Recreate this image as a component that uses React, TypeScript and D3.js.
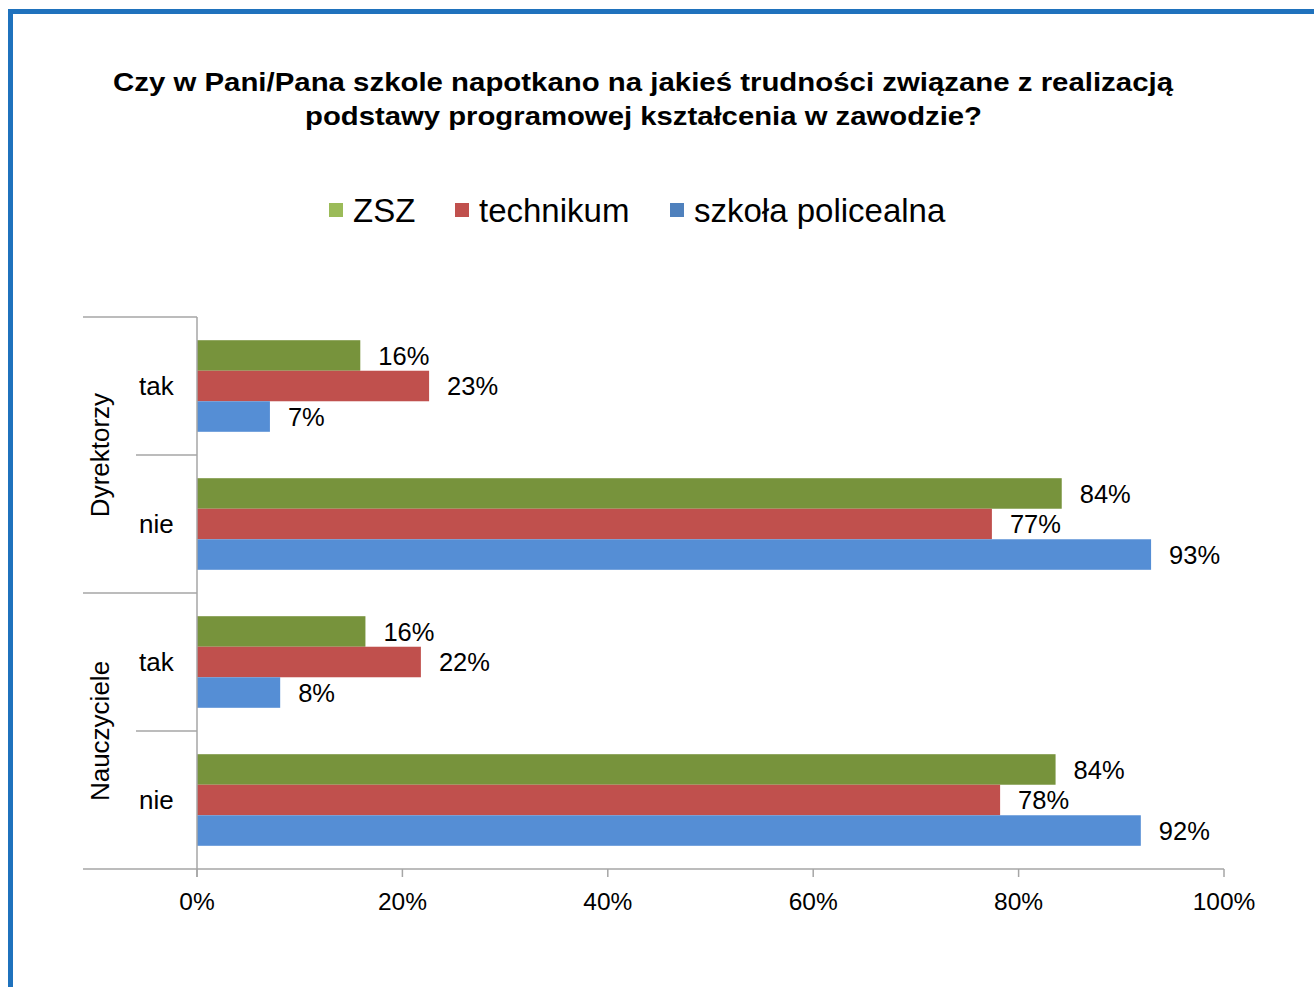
import React from "react";
import * as d3 from "d3";

const groups = ["Dyrektorzy", "Nauczyciele"];
const answers = ["tak", "nie"];
const series = ["ZSZ", "technikum", "szkoła policealna"];
const barColors = ["#77933C", "#C0504D", "#558ED5"];
const legendColors = ["#9BBB59", "#C0504D", "#4F81BD"];
// values per category row (Dyrektorzy-tak, Dyrektorzy-nie, Nauczyciele-tak, Nauczyciele-nie)
const zszValues = [15.9, 84.2, 16.4, 83.6];
const technikumValues = [22.6, 77.4, 21.8, 78.2];
const policealnaValues = [7.1, 92.9, 8.1, 91.9];
const xTicks = [0, 20, 40, 60, 80, 100];
const titleLines = [
  "Czy w Pani/Pana szkole napotkano na jakieś trudności związane z realizacją",
  "podstawy programowej kształcenia w zawodzie?",
];

const W = 1314;
const H = 987;
const FONT = "'Liberation Sans', Arial, sans-serif";

export default function App() {
  const x = d3.scaleLinear().domain([0, 100]).range([197, 1224]);
  const rows = groups.flatMap((g) => answers.map((a) => `${g}|${a}`));
  const y = d3.scaleBand<string>().domain(rows).range([317, 869]).padding(0);
  const inner = d3
    .scaleBand<string>()
    .domain(series)
    .range([0, y.bandwidth()])
    .paddingInner(0)
    .paddingOuter(0.76);
  const allValues = [zszValues, technikumValues, policealnaValues];
  const gridColor = "#A6A6A6";
  const groupScale = d3.scaleBand<string>().domain(groups).range([317, 869]);

  // legend layout
  const legendItems = [
    { label: series[0], sx: 329, tx: 353 },
    { label: series[1], sx: 455, tx: 479 },
    { label: series[2], sx: 670, tx: 694 },
  ];

  return (
    <svg
      width={W}
      height={H}
      style={{ position: "absolute", left: 0, top: 0, background: "#fff" }}
      fontFamily={FONT}
    >
      <rect x={0} y={0} width={W} height={H} fill="#fff" />
      {/* frame */}
      <path d={`M10.5,${H + 10} V11.5 H${W + 10}`} fill="none" stroke="#1F72BD" strokeWidth={5} />

      {/* title */}
      <text x={643} y={91} textAnchor="middle" fontWeight="bold" fontSize={26} fill="#000" textLength={1060} lengthAdjust="spacingAndGlyphs">
        {titleLines[0]}
      </text>
      <text x={643.5} y={125} textAnchor="middle" fontWeight="bold" fontSize={26} fill="#000" textLength={677} lengthAdjust="spacingAndGlyphs">
        {titleLines[1]}
      </text>

      {/* legend */}
      {legendItems.map((it, i) => (
        <g key={it.label}>
          <rect x={it.sx} y={203} width={14} height={14} fill={legendColors[i]} />
          <text x={it.tx} y={222} fontSize={33} fill="#000">
            {it.label}
          </text>
        </g>
      ))}

      {/* bars */}
      {rows.map((r, ri) =>
        series.map((s, si) => {
          const v = allValues[si][ri];
          const by = (y(r) as number) + (inner(s) as number);
          const bh = inner.bandwidth();
          return (
            <g key={r + s}>
              <rect x={x(0)} y={by} width={x(v) - x(0)} height={bh} fill={barColors[si]} />
              <text x={x(v) + 18} y={by + bh / 2} dy="0.36em" fontSize={25.5} fill="#000">
                {`${Math.round(v)}%`}
              </text>
            </g>
          );
        })
      )}

      {/* vertical axis line */}
      <line x1={197} x2={197} y1={317} y2={877} stroke={gridColor} strokeWidth={1.5} />
      {/* horizontal axis */}
      <line x1={83} x2={1224} y1={869} y2={869} stroke={gridColor} strokeWidth={1.5} />
      {xTicks.map((t) => (
        <g key={t}>
          <line x1={x(t)} x2={x(t)} y1={869} y2={877} stroke={gridColor} strokeWidth={1.5} />
          <text x={x(t)} y={910} textAnchor="middle" fontSize={24.5} fill="#000">
            {`${t}%`}
          </text>
        </g>
      ))}

      {/* category separators */}
      {groups.map((g) => (
        <line key={g} x1={83} x2={197} y1={groupScale(g)} y2={groupScale(g)} stroke={gridColor} strokeWidth={1.5} />
      ))}
      {groups.map((g) => (
        <line
          key={g + "mid"}
          x1={136}
          x2={197}
          y1={(groupScale(g) as number) + groupScale.bandwidth() / 2}
          y2={(groupScale(g) as number) + groupScale.bandwidth() / 2}
          stroke={gridColor}
          strokeWidth={1.5}
        />
      ))}

      {/* category labels */}
      {rows.map((r) => (
        <text key={r} x={139} y={(y(r) as number) + y.bandwidth() / 2} dy="0.36em" fontSize={26} fill="#000">
          {r.split("|")[1]}
        </text>
      ))}
      {groups.map((g) => {
        const cy = (groupScale(g) as number) + groupScale.bandwidth() / 2;
        return (
          <text key={g + "lbl"} transform={`translate(109,${cy}) rotate(-90)`} textAnchor="middle" fontSize={26} fill="#000">
            {g}
          </text>
        );
      })}
    </svg>
  );
}
